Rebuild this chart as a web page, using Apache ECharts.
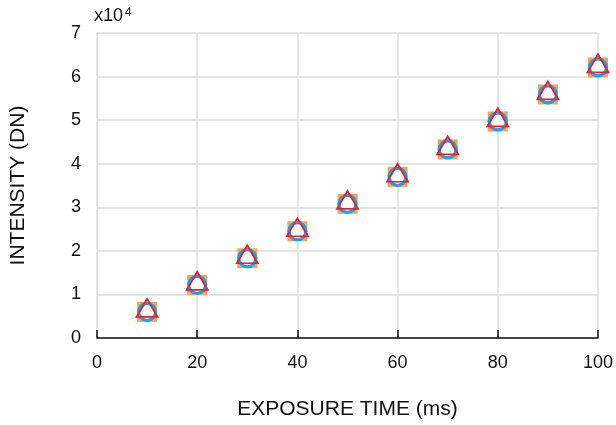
<!DOCTYPE html>
<html><head><meta charset="utf-8">
<script src="https://cdn.jsdelivr.net/npm/echarts@6/dist/echarts.min.js"></script>
<style>html,body{margin:0;padding:0;background:#fff}#c{width:616px;height:425px}</style>
</head><body><div id="c"></div>
<script>
const exposure = [10,20,30,40,50,60,70,80,90,100];
const seriesA = [0.60,1.22,1.83,2.45,3.08,3.70,4.33,4.97,5.59,6.21];
const seriesB = [0.60,1.22,1.83,2.45,3.08,3.70,4.33,4.97,5.59,6.21];
const seriesC = [0.60,1.22,1.83,2.45,3.08,3.70,4.33,4.97,5.59,6.21];
const xTicks = [0,20,40,60,80,100];
const yTicks = [0,1,2,3,4,5,6,7];
const zip = (xs, ys) => xs.map((x,i)=>[x, ys[i]]);
const font = 'Liberation Sans, Arial, sans-serif';
const chart = echarts.init(document.getElementById('c'));
chart.setOption({
  animation:false,
  grid:{left:96,right:17,top:33,bottom:84,containLabel:false},
  xAxis:{type:'value',min:0,max:100,interval:20,
    name:'EXPOSURE TIME (ms)',nameLocation:'middle',nameGap:61,
    nameTextStyle:{fontFamily:font,fontSize:21,color:'#111'},
    axisLine:{lineStyle:{color:'#111',width:1.5}},
    axisTick:{inside:true,length:8,lineStyle:{color:'#111',width:1.5},interval:0},
    axisLabel:{fontFamily:font,fontSize:18,color:'#111',margin:16,formatter:v=>xTicks.includes(v)?String(v):''},
    splitLine:{show:true,lineStyle:{color:'#dcdcdc',width:1.5}}
  },
  yAxis:{type:'value',min:0,max:7,interval:1,
    name:'INTENSITY (DN)',nameLocation:'middle',nameGap:68,nameRotate:90,
    nameTextStyle:{fontFamily:font,fontSize:21,color:'#111'},
    axisLine:{show:false},axisTick:{show:false},
    axisLabel:{fontFamily:font,fontSize:18,color:'#111',margin:16,formatter:v=>yTicks.includes(v)?String(v):''},
    splitLine:{show:true,lineStyle:{color:'#dcdcdc',width:1.5}}
  },
  graphic:[{type:'text',left:94,top:7,style:{
    text:'{a|x10}{b|4}',
    rich:{a:{fontFamily:font,fontSize:18,fill:'#111'},b:{fontFamily:font,fontSize:12,fill:'#111',verticalAlign:'top',padding:[0,0,7,2]}}
  }}],
  series:[
    {type:'scatter',data:zip(exposure,seriesA),symbol:'rect',symbolSize:20,z:2,
      itemStyle:{color:'#f4a25e',borderWidth:0,opacity:1}},
    {type:'scatter',data:zip(exposure,seriesB),symbol:'circle',symbolSize:17,z:3,
      itemStyle:{color:'#ffffff',borderColor:'#1ba4e2',borderWidth:3.2,opacity:1}},
    {type:'scatter',data:zip(exposure,seriesC),symbol:'triangle',symbolSize:[21,18],z:4,symbolOffset:[0,-4],
      itemStyle:{color:'rgba(255,255,255,0)',borderColor:'#e8202a',borderWidth:1.8,opacity:1}}
  ]
});
</script></body></html>
